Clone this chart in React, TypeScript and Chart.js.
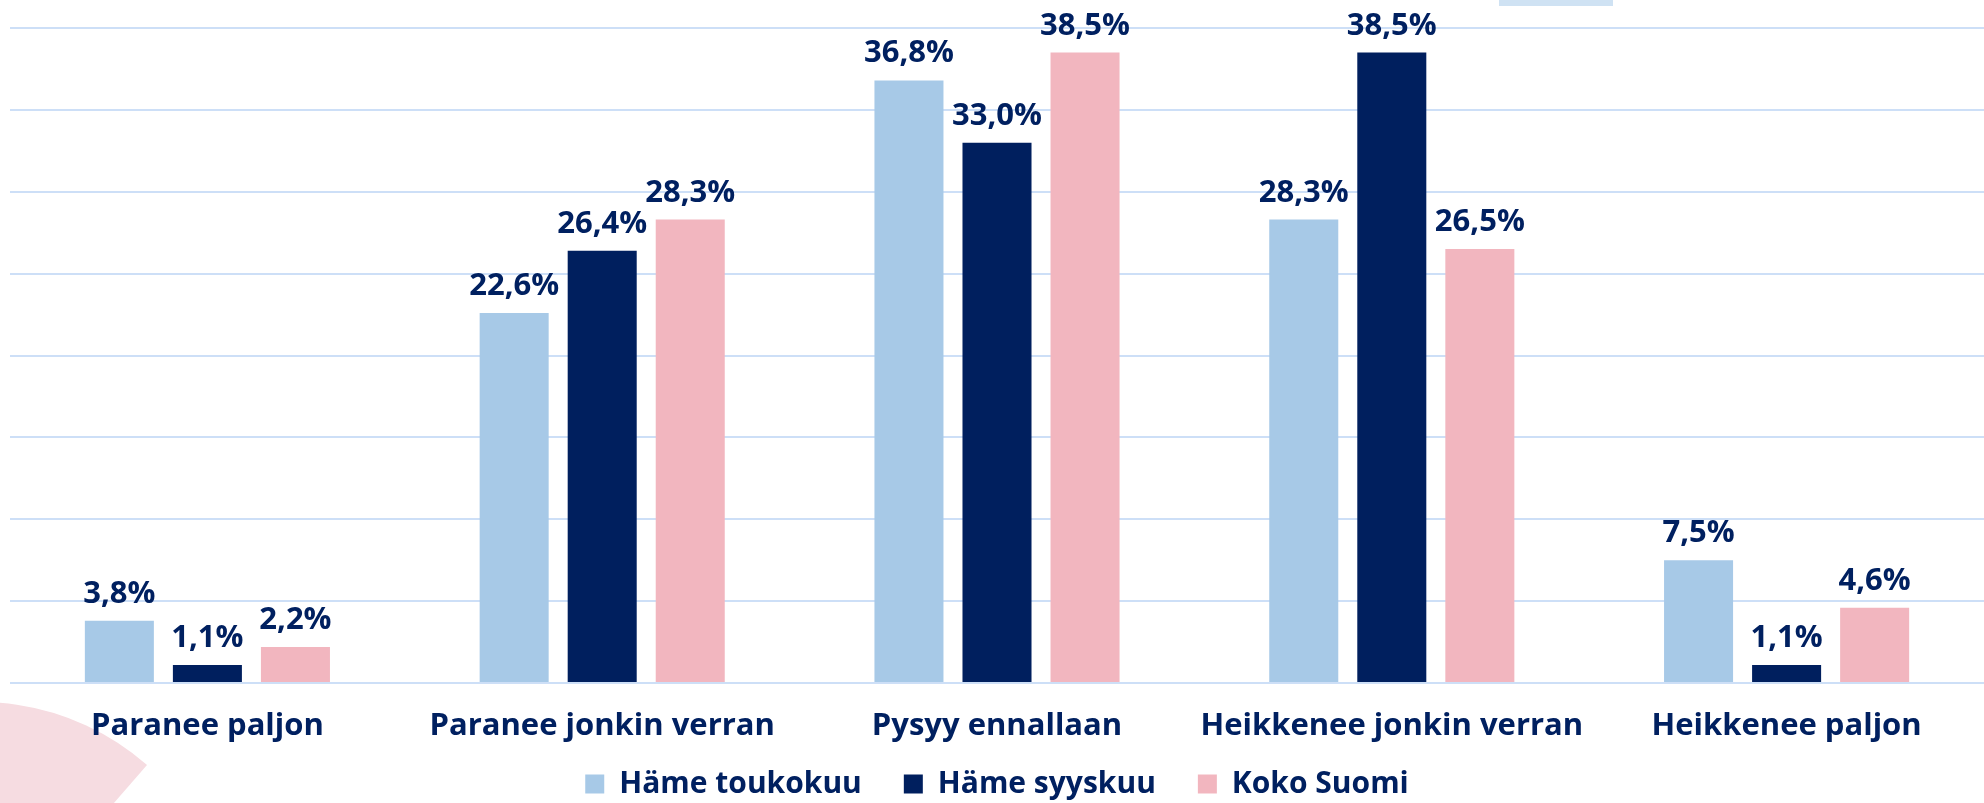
import React, { useEffect, useRef } from "react";
import { Chart, registerables } from "chart.js";

Chart.register(...registerables);

const categories = [
  "Paranee paljon",
  "Paranee jonkin verran",
  "Pysyy ennallaan",
  "Heikkenee jonkin verran",
  "Heikkenee paljon",
];
const hameToukokuu = [3.8, 22.6, 36.8, 28.3, 7.5];
const hameSyyskuu = [1.1, 26.4, 33.0, 38.5, 1.1];
const kokoSuomi = [2.2, 28.3, 38.5, 26.5, 4.6];
const seriesNames = ["Häme toukokuu", "Häme syyskuu", "Koko Suomi"];

const NAVY = "#002060";
const FONT = "'Open Sans', 'DejaVu Sans', sans-serif";

const valueLabels = {
  id: "valueLabels",
  afterDatasetsDraw(chart: any) {
    const ctx = chart.ctx;
    ctx.save();
    ctx.fillStyle = NAVY;
    ctx.font = `700 31px ${FONT}`;
    ctx.textAlign = "center";
    ctx.textBaseline = "alphabetic";
    chart.data.datasets.forEach((ds: any, i: number) => {
      const meta = chart.getDatasetMeta(i);
      meta.data.forEach((bar: any, j: number) => {
        const v = ds.data[j] as number;
        const txt = v.toFixed(1).replace(".", ",") + "%";
        ctx.fillText(txt, bar.x, bar.y - 18);
      });
    });
    ctx.restore();
  },
};

// extends the legend box upwards so its row sits where the original has it
const legendShift = {
  id: "legendShift",
  afterUpdate(chart: any) {
    const lg = chart.legend;
    if (lg) {
      lg.top -= 18;
    }
  },
};

export default function App() {
  const ref = useRef<HTMLCanvasElement | null>(null);

  useEffect(() => {
    document.body.style.margin = "0";
    const canvas = ref.current;
    if (!canvas) return;
    const chart = new Chart(canvas, {
      type: "bar",
      data: {
        labels: categories,
        datasets: [
          { label: seriesNames[0], data: hameToukokuu, backgroundColor: "#a7c9e7" },
          { label: seriesNames[1], data: hameSyyskuu, backgroundColor: "#001f5e" },
          { label: seriesNames[2], data: kokoSuomi, backgroundColor: "#f2b6bf" },
        ],
      },
      options: {
        responsive: false,
        animation: false,
        devicePixelRatio: 1,
        layout: { padding: { top: 28, left: 10, right: 0, bottom: 0 } },
        datasets: {
          bar: { barPercentage: 0.784, categoryPercentage: 0.669 },
        },
        scales: {
          x: {
            grid: { display: false, drawTicks: false },
            border: { display: false },
            ticks: {
              color: NAVY,
              font: { family: FONT, size: 31, weight: "bold" },
              padding: 25,
              maxRotation: 0,
              autoSkip: false,
            },
            afterFit(scale: any) {
              scale.height = 62;
            },
          },
          y: {
            min: 0,
            max: 40,
            ticks: { display: false, stepSize: 5 },
            grid: { color: "#cddff7", lineWidth: 2, drawTicks: false },
            border: { display: false },
          },
        },
        plugins: {
          legend: {
            position: "bottom",
            maxHeight: 58,
            labels: {
              color: NAVY,
              font: { family: FONT, size: 30, weight: "bold" },
              boxWidth: 19,
              boxHeight: 19,
              padding: 42,
            },
          },
          tooltip: { enabled: false },
        },
      },
      plugins: [valueLabels, legendShift],
    });
    return () => chart.destroy();
  }, []);

  return (
    <div style={{ position: "relative", width: 1984, height: 803, overflow: "hidden", background: "#fff" }}>
      <svg width={1984} height={803} style={{ position: "absolute", left: 0, top: 0 }}>
        <path d="M -20 957 L 147 765 A 253 253 0 0 0 -273 957 Z" fill="#f6dce1" />
        <rect x={1499} y={0} width={114} height={6} fill="#cfe2f3" />
      </svg>
      <canvas ref={ref} width={1984} height={803} style={{ position: "absolute", left: 0, top: 0 }} />
    </div>
  );
}
